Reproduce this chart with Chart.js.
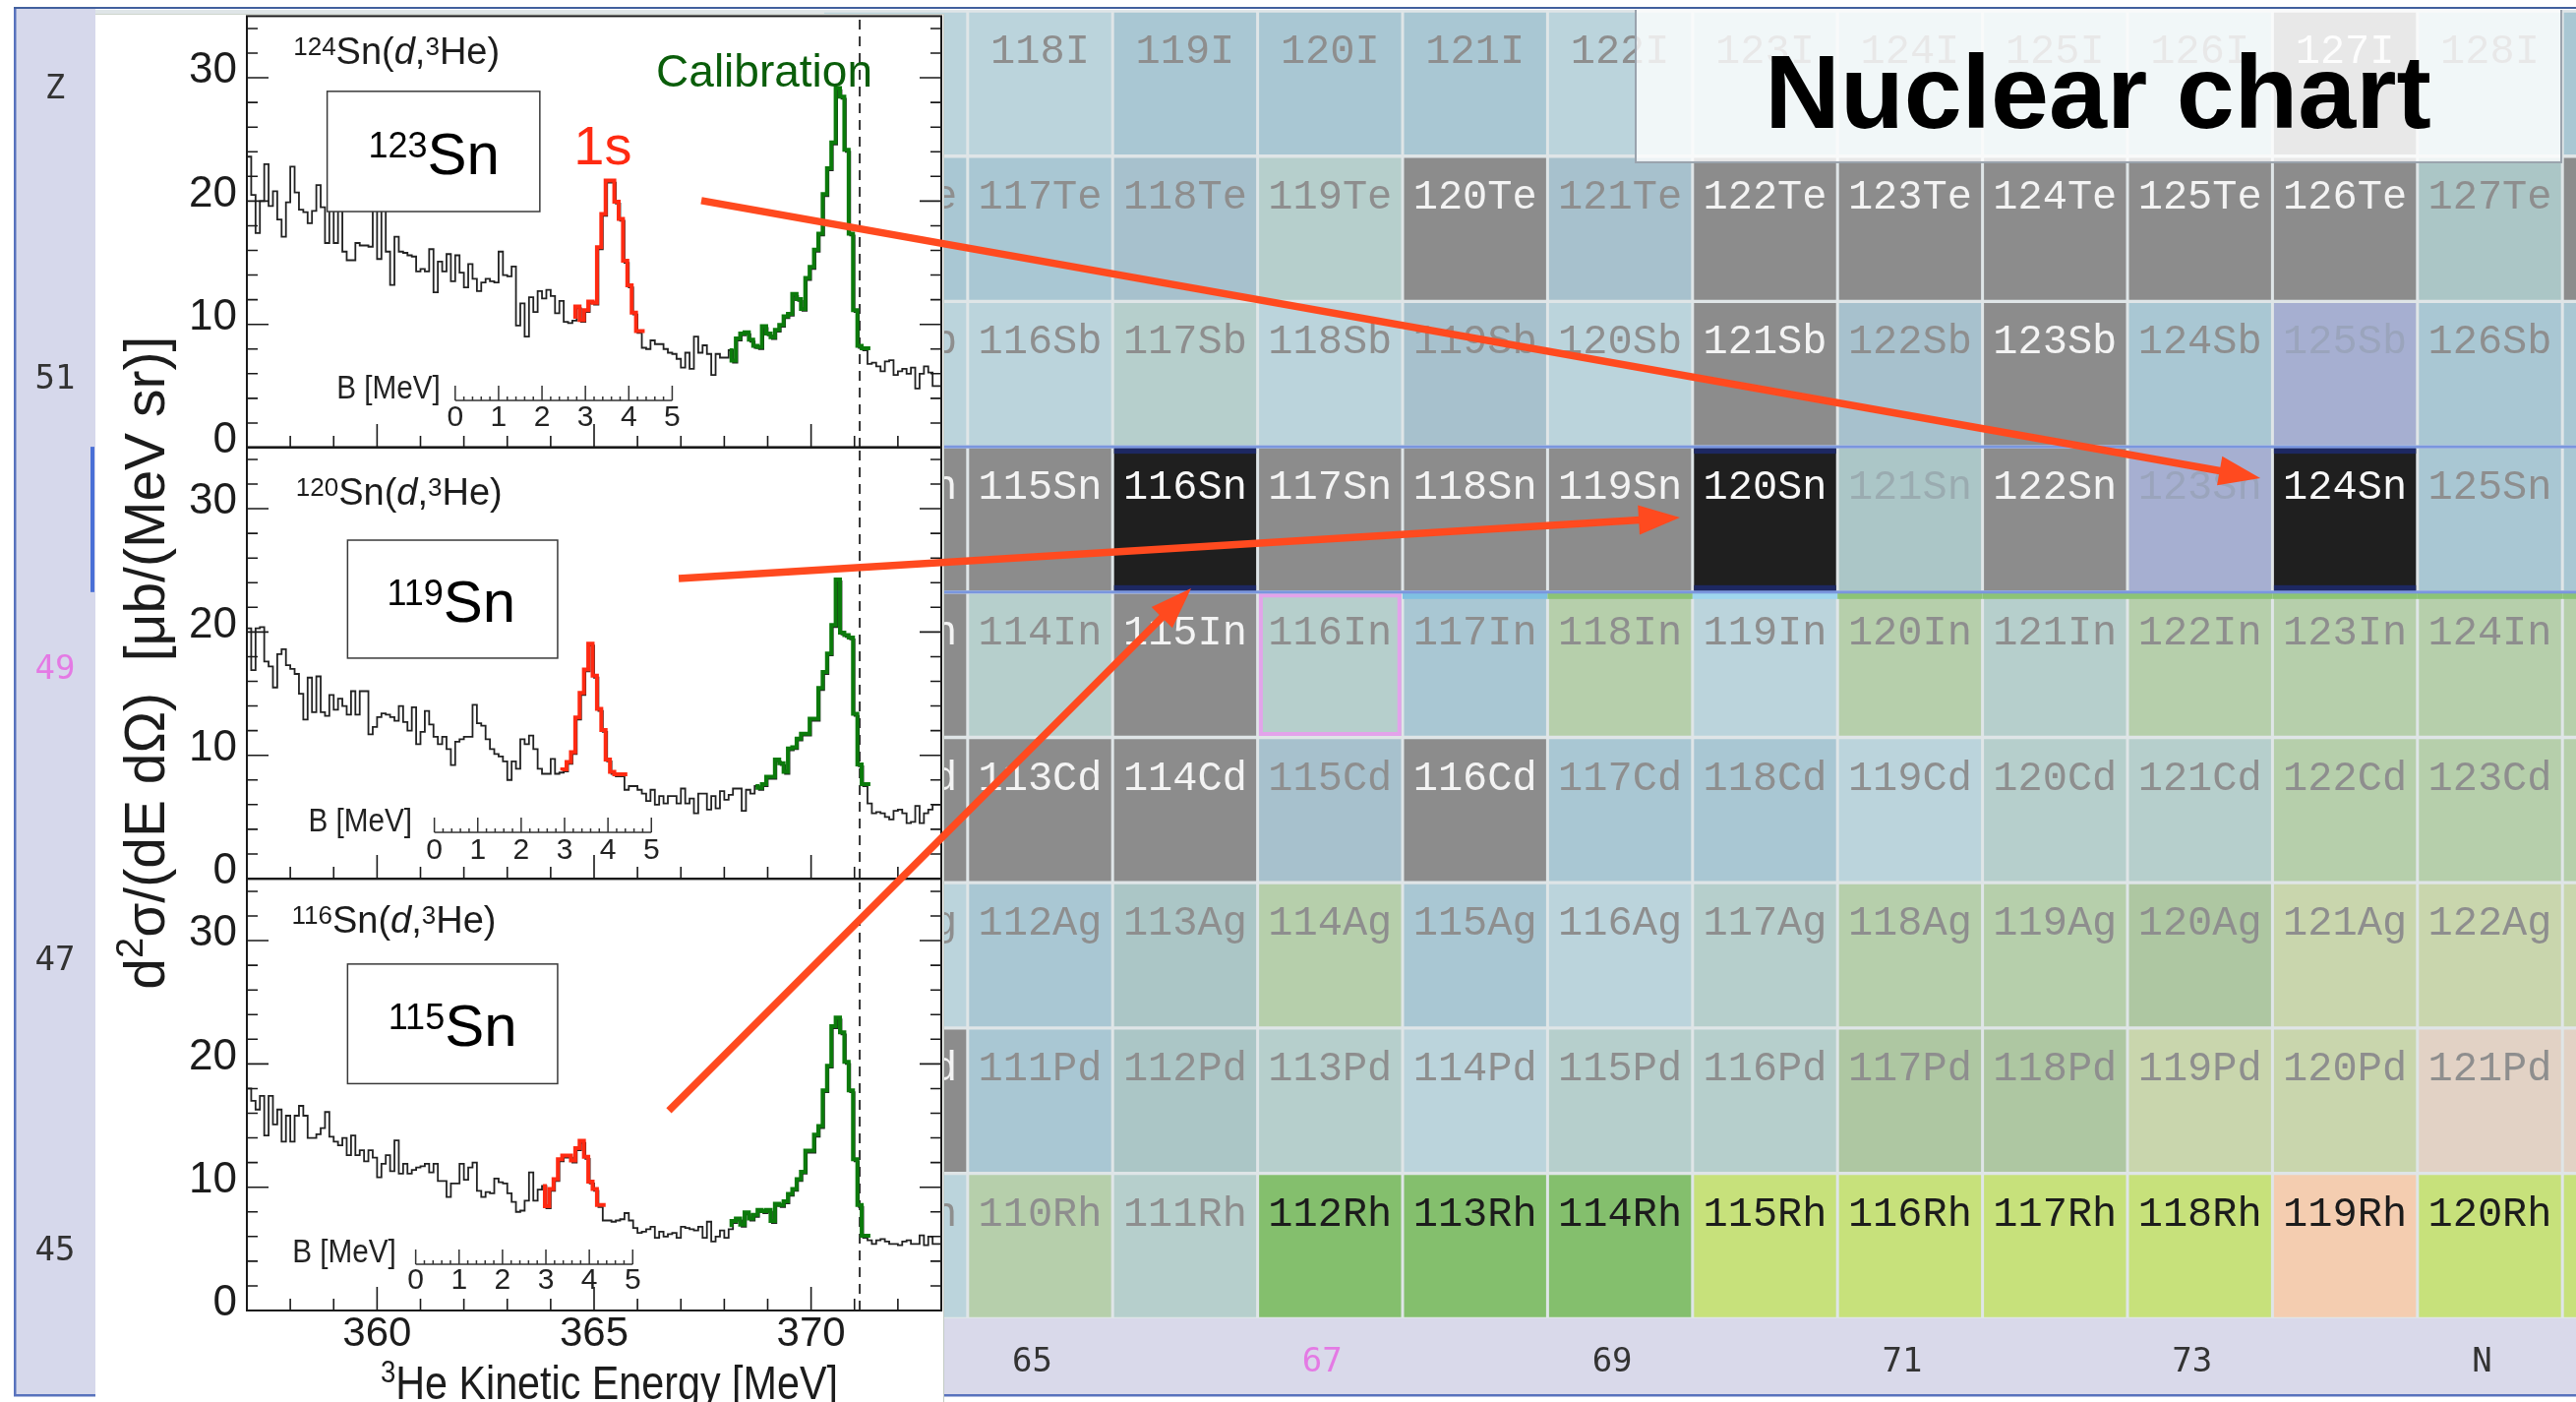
<!DOCTYPE html>
<html>
<head>
<meta charset="utf-8">
<title>Nuclear chart</title>
<script src="https://cdn.jsdelivr.net/npm/chart.js"></script>
<style>
html, body { margin:0; padding:0; background:#ffffff; }
body { width:2619px; height:1425px; position:relative; overflow:hidden; }
canvas { position:absolute; }
#inset { position:absolute; left:97px; top:14px; width:863px; height:1411px; background:#ffffff; box-sizing:border-box; border-top:1px solid #cdd5cd; border-right:1px solid #c3cbc3; }
</style>
</head>
<body>
<canvas id="nuc" width="2619" height="1425" style="left:0;top:0;"></canvas>
<div id="inset"></div>
<canvas id="p0" width="864" height="1411" style="left:97px;top:14px;"></canvas>
<canvas id="p1" width="864" height="1411" style="left:97px;top:14px;"></canvas>
<canvas id="p2" width="864" height="1411" style="left:97px;top:14px;"></canvas>
<canvas id="arrows" width="2619" height="1425" style="left:0;top:0;"></canvas>
<script>
// ================= spectrum data (0.1 MeV bins from 357 MeV) =================
const E_MIN = 357, E_MAX = 373, BIN_WIDTH = 0.1;
const V_MIN = 0, V_MAX = 35;
const EDGE_E = 371.12;
const X_TICK_LABELS = [360, 365, 370];
const Y_TICK_LABELS = [0, 10, 20, 30];
const B_TICK_LABELS = [0, 1, 2, 3, 4, 5];
const TARGET_A = ['124', '120', '116'];
const RESIDUAL_A = ['123', '119', '115'];

const SPEC_124 = [
 24.0,23.6,20.5,17.4,20.0,23.0,19.6,20.8,18.5,17.1,
 19.9,22.8,20.7,19.3,19.1,18.2,19.2,21.3,19.5,16.6,
 20.5,16.6,20.5,15.9,15.2,15.2,16.6,16.4,16.4,16.3,
 20.0,15.3,20.5,15.9,13.2,17.1,15.9,15.8,15.6,15.5,
 14.3,14.5,14.3,16.1,12.6,15.1,14.3,15.7,13.5,15.6,
 14.2,13.0,14.9,13.7,12.7,13.4,13.7,13.5,13.4,15.9,
 14.0,13.9,14.7,9.9,11.7,9.0,12.2,11.0,12.7,12.1,
 12.8,12.3,10.9,11.9,10.2,10.1,10.3,11.3,10.2,11.0,
 11.7,11.6,16.1,18.8,21.5,21.5,19.8,18.4,15.0,13.0,
 10.8,9.3,8.1,8.0,8.7,8.4,8.4,8.0,7.7,7.6,
 7.2,6.5,7.7,6.4,9.0,7.7,8.3,7.6,5.9,7.6,
 7.3,7.3,7.9,6.9,8.7,9.1,9.2,8.6,8.1,8.0,
 9.7,9.1,8.8,9.4,9.8,10.5,10.7,12.3,11.9,11.1,
 13.6,14.5,15.9,17.2,20.4,22.5,24.6,29.0,28.3,24.0,
 17.2,11.0,8.1,7.9,6.8,6.9,6.6,6.2,7.0,7.1,
 5.9,6.2,6.4,6.0,6.5,4.8,6.0,6.6,6.1,5.0
];
const SPEC_120 = [
 19.7,20.3,16.9,20.3,20.4,17.6,17.2,15.5,18.2,18.6,
 17.3,17.0,16.6,15.0,12.9,16.3,13.5,16.4,13.5,13.2,
 14.9,13.7,14.6,14.0,13.3,15.2,13.3,15.2,15.2,11.7,
 12.3,13.1,13.4,13.3,13.1,12.8,14.0,12.7,12.0,13.9,
 10.9,11.9,13.6,12.5,11.5,10.9,11.5,10.5,9.2,11.1,
 11.3,11.5,11.5,14.1,12.6,12.4,11.3,10.5,10.1,9.9,
 9.5,8.0,9.5,8.9,11.3,10.9,11.6,10.5,8.9,8.5,
 8.5,9.7,8.5,8.6,8.7,9.3,10.1,12.9,14.9,16.8,
 18.9,16.3,13.6,11.9,9.5,8.5,8.3,8.3,7.2,7.5,
 7.5,7.2,6.9,6.3,7.2,6.0,6.7,6.1,6.7,6.7,
 6.1,7.3,6.1,6.5,5.3,6.9,6.9,5.6,6.7,5.7,
 7.1,6.4,6.8,7.3,7.3,5.5,7.2,6.9,7.5,7.2,
 7.5,8.1,8.1,9.5,9.2,8.5,10.4,10.5,11.2,11.6,
 11.6,12.8,12.8,15.3,16.6,18.1,20.4,24.1,19.8,19.6,
 19.4,13.2,9.1,7.5,6.1,5.3,5.4,5.3,5.0,4.8,
 5.5,5.6,5.3,4.5,4.6,5.9,4.5,5.3,5.6,6.0
];
const SPEC_116 = [
 16.5,18.0,17.0,16.3,17.4,14.2,17.4,15.1,16.3,13.7,
 15.8,13.7,15.8,16.6,15.8,14.0,14.0,14.3,14.8,16.1,
 14.1,13.7,13.4,14.0,12.6,14.2,12.6,13.0,12.1,13.0,
 12.4,10.8,11.9,12.6,11.3,13.8,11.1,11.9,11.1,11.4,
 11.6,11.7,11.9,11.2,11.9,10.5,10.5,9.2,10.3,10.3,
 11.9,10.6,11.6,12.0,9.7,9.2,9.6,9.5,10.7,10.4,
 10.3,9.5,8.8,8.0,8.1,8.9,11.2,8.9,9.8,10.1,
 8.3,9.7,10.5,12.1,12.4,12.4,12.0,13.0,13.6,12.3,
 10.3,9.7,8.4,7.3,7.3,7.2,7.3,7.4,7.9,7.3,
 6.7,6.3,6.4,6.6,6.8,5.9,6.4,6.0,6.2,6.3,
 5.9,6.8,6.7,6.6,6.5,6.8,5.9,7.2,5.6,6.0,
 6.5,5.9,6.6,7.1,7.3,6.8,7.8,7.3,7.6,8.0,
 7.9,8.0,7.1,8.5,8.4,8.7,9.3,9.7,10.5,11.1,
 12.8,12.8,14.1,14.8,17.7,19.7,22.9,23.6,22.4,20.0,
 17.7,12.1,8.4,5.9,5.7,5.4,5.7,5.8,5.6,5.4,
 5.4,5.3,5.6,5.7,5.4,5.4,6.1,5.3,6.0,5.4
];
const SPECTRA = [SPEC_124, SPEC_120, SPEC_116];
const BINS_1S  = [[76, 91], [73, 87], [69, 82]];
const BINS_CAL = [[112, 143], [118, 143], [112, 143]];

// ================= nuclear chart data =================
const N_COLUMNS = [64, 65, 66, 67, 68, 69, 70, 71, 72, 73, 74, 75, 76];
const Z_ROWS = [53, 52, 51, 50, 49, 48, 47, 46, 45];
const SYMBOLS = ['I', 'Te', 'Sb', 'Sn', 'In', 'Cd', 'Ag', 'Pd', 'Rh'];
const STATUS_Z53 = ['L','L','A','A','A','L','L','L','L','L','S','L','A'];
const STATUS_Z52 = ['A','A','D','E','S','D','S','S','S','S','S','Q','S'];
const STATUS_Z51 = ['L','L','E','L','D','L','S','D','S','A','V','A','A'];
const STATUS_Z50 = ['S','S','T','S','S','S','T','q','S','V','T','A','A'];
const STATUS_Z49 = ['S','E','S','E','A','g','L','g','E','g','g','g','g'];
const STATUS_Z48 = ['S','S','S','D','S','A','A','L','E','E','g','g','g'];
const STATUS_Z47 = ['L','A','Q','g','A','L','E','g','g','k','h','h','h'];
const STATUS_Z46 = ['S','A','Q','E','L','E','E','k','k','h','h','r','r'];
const STATUS_Z45 = ['L','g','E','G','G','G','Y','Y','Y','Y','P','Y','Y'];
const STATUS_ROWS = [STATUS_Z53, STATUS_Z52, STATUS_Z51, STATUS_Z50, STATUS_Z49, STATUS_Z48, STATUS_Z47, STATUS_Z46, STATUS_Z45];
const N_TICKS = [65, 67, 69, 71, 73, 75];
const N_TICK_LABELS = ['65', '67', '69', '71', '73', 'N'];
const Z_TICKS = [45, 47, 49, 51, 53];
const Z_TICK_LABELS = ['45', '47', '49', '51', 'Z'];
const HIGHLIGHT_Z = 50;
const HIGHLIGHT_N = 67;
const SELECTED_CELL = [{x: 67, y: 49}];
const STRIPE_Z = 49;
const STRIPE_N = [68, 69, 70, 71, 72, 73, 74, 75, 76];
const ARROW_FROM_N = [62.663, 62.507, 62.439];
const ARROW_FROM_Z = [52.194, 49.594, 45.931];
const ARROW_TO_N   = [73.336, 69.332, 65.984];
const ARROW_TO_Z   = [50.299, 50.009, 49.469];

// ================= styles / layout =================
const FONT = '"Liberation Sans", Arial, Helvetica, sans-serif';
const MONO = '"DejaVu Sans Mono", "Liberation Mono", monospace';
const CELL_FONT = '42px "Liberation Mono", "DejaVu Sans Mono", monospace';
const RED = '#ff2a12', GREEN = '#0b7a0b', INK = '#1c1c1c';
const ARROW_COLOR = '#ff4a1f';
const STATUS_COLORS = {S:'#8c8c8c', T:'#1f1f1f', A:'#a9c7d3', L:'#bbd4dc', D:'#a7c1cd', E:'#b6cfcc', Q:'#abc6c6', q:'#abc6c7',
  V:'#a6afd1', g:'#b6cfab', k:'#aec7a2', h:'#c9d6ad', r:'#e2d2c5', G:'#84bf6d', Y:'#c7e17b', P:'#f4cdb0'};
const LABEL_COLORS = {S:'#f3f3f3', T:'#f7f7f7', G:'#1c1c1c', Y:'#1c1c1c', P:'#1c1c1c', q:'#9aabb0', V:'#9aa4bc'};
const STRIPE_COLORS = {A:'#7fc0e2', L:'#9fd6ee'};
const STRIPE_DEFAULT = '#8cc476';
const CELL_GAP = 3;
const LABEL_RISE = 0.216;
const NUC_PAD = {left: 97, top: 10, right: 0, bottom: 85};
const STRIP_LEFT = 15, STRIP_BOTTOM = 1418;
const NUC_X = {min: 58.4837, max: 75.5936};
const NUC_Y = {min: 44.502, max: 53.507};
const TITLE_BOX = {n0: 69.108, n1: 75.492, z0: 52.458, z1: 53.52, textN: 72.297, textZ: 52.695};
const HEAD_LEN = 42, HEAD_HALF = 15, HEAD_EXT = 12;

const PANEL_LAYOUT = [
  {padTop: 2.4, padBottom: 970, reaction: {e: 358.07, v: 31.13}, box: {e0: 358.85, e1: 363.75, v0: 19.15, v1: 28.9},
   boxLabel: {e: 361.31, v: 22.2}, ruler: {e0: 361.80, v: 3.83, labV: 1.75, titleE: 361.46, titleV: 4.0}},
  {padTop: 440.4, padBottom: 532, reaction: {e: 358.13, v: 30.3}, box: {e0: 359.32, e1: 364.16, v0: 17.88, v1: 27.45},
   boxLabel: {e: 361.71, v: 20.85}, ruler: {e0: 361.32, v: 3.75, labV: 1.57, titleE: 360.81, titleV: 3.83}},
  {padTop: 879.4, padBottom: 93, reaction: {e: 358.03, v: 30.65}, box: {e0: 359.32, e1: 364.16, v0: 18.4, v1: 28.1},
   boxLabel: {e: 361.74, v: 21.44}, ruler: {e0: 360.89, v: 3.75, labV: 1.76, titleE: 360.44, titleV: 3.89}}
];
const PEAK_LABEL = {e: 365.20, v: 23.0};
const CAL_LABEL = {e: 366.43, v: 29.26};
const X_TITLE = {e: 360.08, dy: 90};
const Y_TITLE_DX = -84;

Chart.defaults.font.family = FONT;

// ---------- helpers ----------
function fontStr(p) { return (p.italic ? 'italic ' : '') + (p.bold ? 'bold ' : '') + p.size + 'px ' + FONT; }
function drawRich(ctx, pieces, x, y, align, sx) {
  ctx.save();
  ctx.translate(x, y);
  ctx.scale(sx || 1, 1);
  ctx.textAlign = 'left';
  ctx.textBaseline = 'alphabetic';
  let total = 0;
  pieces.forEach(p => { ctx.font = fontStr(p); p.w = ctx.measureText(p.t).width; total += p.w; });
  let cx = align === 'center' ? -total / 2 : (align === 'right' ? -total : 0);
  pieces.forEach(p => { ctx.font = fontStr(p); ctx.fillText(p.t, cx, -(p.rise || 0)); cx += p.w; });
  ctx.restore();
}
function histPoints(values, from, to) {
  const pts = [];
  for (let k = from; k <= to; k++) pts.push({x: E_MIN + k * BIN_WIDTH, y: values[k]});
  pts.push({x: E_MIN + (to + 1) * BIN_WIDTH, y: values[to]});
  return pts;
}

// ---------- spectrum panels ----------
function makePanelPlugin(idx) {
  const L = PANEL_LAYOUT[idx];
  return {
    id: 'rootPanel' + idx,
    beforeDatasetDraw(chart, args) {
      const ds = chart.data.datasets[args.index];
      if (ds.pixelShift) { chart.ctx.save(); chart.ctx.translate(ds.pixelShift[0], ds.pixelShift[1]); }
    },
    afterDatasetDraw(chart, args) {
      const ds = chart.data.datasets[args.index];
      if (ds.pixelShift) chart.ctx.restore();
    },
    afterDatasetsDraw(chart) {
      const ctx = chart.ctx, a = chart.chartArea, xs = chart.scales.x, ys = chart.scales.y;
      const X = e => xs.getPixelForValue(e), Y = v => ys.getPixelForValue(v);
      ctx.save();
      const bx0 = X(L.box.e0), bx1 = X(L.box.e1), by0 = Y(L.box.v1), by1 = Y(L.box.v0);
      ctx.fillStyle = '#ffffff';
      ctx.fillRect(bx0, by0, bx1 - bx0, by1 - by0);
      ctx.strokeStyle = '#3a3a3a'; ctx.lineWidth = 1.5;
      ctx.strokeRect(bx0, by0, bx1 - bx0, by1 - by0);
      ctx.fillStyle = '#000000';
      drawRich(ctx, [{t: RESIDUAL_A[idx], size: 36, rise: 17}, {t: 'Sn', size: 60}], X(L.boxLabel.e), Y(L.boxLabel.v), 'center');
      ctx.fillStyle = INK;
      drawRich(ctx, [{t: TARGET_A[idx], size: 26, rise: 9}, {t: 'Sn(', size: 38}, {t: 'd', size: 38, italic: true},
        {t: ',', size: 38}, {t: '3', size: 26, rise: 9}, {t: 'He)', size: 38}], X(L.reaction.e), Y(L.reaction.v), 'left');
      if (idx === 0) {
        ctx.fillStyle = RED;
        drawRich(ctx, [{t: '1s', size: 56}], X(PEAK_LABEL.e), Y(PEAK_LABEL.v), 'center');
        ctx.fillStyle = '#0a5d0a';
        drawRich(ctx, [{t: 'Calibration', size: 46}], X(CAL_LABEL.e), Y(CAL_LABEL.v), 'left');
      }
      const R = L.ruler, ry = Y(R.v);
      ctx.strokeStyle = '#333333'; ctx.lineWidth = 1.5;
      ctx.beginPath();
      ctx.moveTo(X(R.e0), ry); ctx.lineTo(X(R.e0 + 5), ry);
      for (let i = 0; i <= 25; i++) {
        const px = X(R.e0 + i * 0.2), len = i % 5 === 0 ? 15 : 4;
        ctx.moveTo(px, ry); ctx.lineTo(px, ry - len);
      }
      ctx.stroke();
      ctx.fillStyle = '#222222';
      B_TICK_LABELS.forEach(b => drawRich(ctx, [{t: String(b), size: 30}], X(R.e0 + b), Y(R.labV), 'center'));
      drawRich(ctx, [{t: 'B [MeV]', size: 33}], X(R.titleE), Y(R.titleV), 'right', 0.9);
      ctx.strokeStyle = '#1a1a1a'; ctx.lineWidth = 2;
      ctx.strokeRect(a.left, a.top, a.right - a.left, a.bottom - a.top);
      ctx.lineWidth = 1.6;
      ctx.beginPath();
      for (let v = V_MIN; v < V_MAX; v += 2) {
        const py = Y(v), len = v % 10 === 0 ? 22 : 11;
        ctx.moveTo(a.left, py); ctx.lineTo(a.left + len, py);
        ctx.moveTo(a.right, py); ctx.lineTo(a.right - len, py);
      }
      for (let e = E_MIN + 1; e < E_MAX; e += 1) {
        const px = X(e), len = e % 5 === 0 ? 24 : 12;
        ctx.moveTo(px, a.bottom); ctx.lineTo(px, a.bottom - len);
      }
      ctx.stroke();
      ctx.fillStyle = INK;
      ctx.font = '44px ' + FONT; ctx.textAlign = 'right'; ctx.textBaseline = 'middle';
      Y_TICK_LABELS.forEach(v => ctx.fillText(String(v), a.left - 10, Y(v) - 7));
      if (idx === 2) {
        ctx.font = '42px ' + FONT; ctx.textAlign = 'center'; ctx.textBaseline = 'top';
        X_TICK_LABELS.forEach(e => ctx.fillText(String(e), X(e), a.bottom + 3));
        drawRich(ctx, [{t: '3', size: 32, rise: 17}, {t: 'He Kinetic Energy [MeV]', size: 48}], X(X_TITLE.e), a.bottom + X_TITLE.dy, 'left', 0.86);
      }
      if (idx === 1) {
        ctx.save();
        ctx.translate(a.left + Y_TITLE_DX, (a.top + a.bottom) / 2);
        ctx.rotate(-Math.PI / 2);
        drawRich(ctx, [{t: 'd', size: 57}, {t: '2', size: 38, rise: 22}, {t: 'σ/(dE dΩ)  [μb/(MeV sr)]', size: 57}], 0, 0, 'center');
        ctx.restore();
      }
      ctx.restore();
    }
  };
}

SPECTRA.forEach((spec, idx) => {
  const L = PANEL_LAYOUT[idx];
  new Chart(document.getElementById('p' + idx), {
    type: 'line',
    data: {
      datasets: [
        {label: '1s', data: histPoints(spec, BINS_1S[idx][0], BINS_1S[idx][1]), borderColor: RED, borderWidth: 4,
         stepped: 'after', pointRadius: 0, order: 0, pixelShift: [-1.5, -2]},
        {label: 'calibration', data: histPoints(spec, BINS_CAL[idx][0], BINS_CAL[idx][1]), borderColor: GREEN, borderWidth: 4,
         stepped: 'after', pointRadius: 0, order: 1, pixelShift: [-1.5, -2]},
        {label: 'spectrum', data: histPoints(spec, 0, spec.length - 1), borderColor: '#222222', borderWidth: 1.8,
         stepped: 'after', pointRadius: 0, order: 2},
        {label: 'edge', data: [{x: EDGE_E, y: V_MIN}, {x: EDGE_E, y: V_MAX}], borderColor: '#222222', borderWidth: 1.8,
         borderDash: [10, 7], pointRadius: 0, order: 3}
      ]
    },
    options: {
      responsive: false, animation: false, devicePixelRatio: 1, events: [],
      layout: {padding: {left: 154, right: 4, top: L.padTop, bottom: L.padBottom}},
      scales: {
        x: {type: 'linear', min: E_MIN, max: E_MAX, display: false},
        y: {type: 'linear', min: V_MIN, max: V_MAX, display: false}
      },
      elements: {line: {tension: 0, fill: false}},
      plugins: {legend: {display: false}, tooltip: {enabled: false}}
    },
    plugins: [makePanelPlugin(idx)]
  });
});

// ---------- nuclear chart ----------
const CELLS = [];
Z_ROWS.forEach((z, r) => {
  N_COLUMNS.forEach((n, c) => {
    CELLS.push({x: n, y: z, code: STATUS_ROWS[r][c], label: String(z + n) + SYMBOLS[r]});
  });
});
function cellRadius(chart) {
  const xs = chart.scales.x;
  const w = Math.abs(xs.getPixelForValue(1) - xs.getPixelForValue(0));
  return (w - CELL_GAP) / 2 / Math.SQRT1_2;
}
const nucPlugin = {
  id: 'nucPlugin',
  beforeDraw(chart) {
    const ctx = chart.ctx, a = chart.chartArea, xs = chart.scales.x, ys = chart.scales.y;
    ctx.save();
    ctx.fillStyle = '#d6d8eb';
    ctx.fillRect(STRIP_LEFT, a.top - 1, a.left - STRIP_LEFT, STRIP_BOTTOM - a.top + 1);
    ctx.fillStyle = '#d9d9ea';
    ctx.fillRect(a.left, a.bottom, a.right - a.left, STRIP_BOTTOM - a.bottom);
    ctx.fillStyle = '#dfe5e7';
    ctx.fillRect(a.left, a.top, a.right - a.left, a.bottom - a.top);
    ctx.fillStyle = '#5872bd';
    ctx.fillRect(STRIP_LEFT - 1, a.top - 3, 2.5, STRIP_BOTTOM - a.top + 4);
    ctx.fillRect(STRIP_LEFT - 1, STRIP_BOTTOM - 1, a.right, 2.5);
    ctx.fillStyle = '#42609e';
    ctx.fillRect(STRIP_LEFT - 1, a.top - 3, a.right, 2);
    const t = ys.getPixelForValue(HIGHLIGHT_Z + 0.5), b = ys.getPixelForValue(HIGHLIGHT_Z - 0.5);
    ctx.fillStyle = '#4a6fd6';
    ctx.fillRect(a.left - 5, t, 4, b - t);
    ctx.font = '34px ' + MONO; ctx.textAlign = 'center'; ctx.textBaseline = 'middle';
    const zx = (STRIP_LEFT + a.left) / 2;
    Z_TICKS.forEach((z, i) => {
      ctx.fillStyle = z === 49 ? '#e47ae4' : '#333333';
      ctx.fillText(Z_TICK_LABELS[i], zx, ys.getPixelForValue(z) + 6);
    });
    const ny = (a.bottom + STRIP_BOTTOM) / 2 + 6;
    N_TICKS.forEach((n, i) => {
      ctx.fillStyle = n === HIGHLIGHT_N ? '#e47ae4' : '#333333';
      ctx.fillText(N_TICK_LABELS[i], xs.getPixelForValue(n) - 8, ny);
    });
    ctx.restore();
  },
  afterDatasetsDraw(chart) {
    const ctx = chart.ctx, a = chart.chartArea, xs = chart.scales.x, ys = chart.scales.y;
    const meta = chart.getDatasetMeta(1);
    const half = (Math.abs(xs.getPixelForValue(1) - xs.getPixelForValue(0)) - CELL_GAP) / 2;
    ctx.save();
    ctx.beginPath(); ctx.rect(a.left, a.top, a.right - a.left, a.bottom - a.top); ctx.clip();
    // coloured stripe along the top of the In row
    meta.data.forEach((pt, i) => {
      const c = CELLS[i];
      if (c.y !== STRIPE_Z || STRIPE_N.indexOf(c.x) < 0) return;
      ctx.fillStyle = STRIPE_COLORS[c.code] || STRIPE_DEFAULT;
      ctx.fillRect(pt.x - half - 1.5, ys.getPixelForValue(c.y + 0.5) + 1, 2 * half + 3, 6);
    });
    ctx.fillStyle = '#1d2862';
    meta.data.forEach((pt, i) => {
      const c = CELLS[i];
      if (c.code !== 'T') return;
      const top = ys.getPixelForValue(c.y + 0.5), bot = ys.getPixelForValue(c.y - 0.5);
      ctx.fillRect(pt.x - half, top + 1, 2 * half, 6);
      ctx.fillRect(pt.x - half, bot - 7, 2 * half, 6);
    });
    ctx.fillStyle = '#7a96de';
    [HIGHLIGHT_Z + 0.5, HIGHLIGHT_Z - 0.5].forEach(z => {
      const py = ys.getPixelForValue(z);
      ctx.fillRect(a.left, py - 1.5, a.right - a.left, 3);
    });
    ctx.font = CELL_FONT; ctx.textAlign = 'center'; ctx.textBaseline = 'middle';
    meta.data.forEach((pt, i) => {
      const c = CELLS[i];
      ctx.fillStyle = LABEL_COLORS[c.code] || '#8e8e8e';
      ctx.fillText(c.label, pt.x, ys.getPixelForValue(c.y + LABEL_RISE));
    });
    const bx0 = xs.getPixelForValue(TITLE_BOX.n0), bx1 = xs.getPixelForValue(TITLE_BOX.n1);
    const by0 = ys.getPixelForValue(TITLE_BOX.z1), by1 = ys.getPixelForValue(TITLE_BOX.z0);
    ctx.fillStyle = 'rgba(255,255,255,0.8)';
    ctx.fillRect(bx0, by0, bx1 - bx0, by1 - by0);
    ctx.strokeStyle = '#9aa3ad'; ctx.lineWidth = 2;
    ctx.strokeRect(bx0, by0, bx1 - bx0, by1 - by0);
    ctx.fillStyle = '#000000';
    ctx.font = 'bold 106px ' + FONT; ctx.textAlign = 'center'; ctx.textBaseline = 'alphabetic';
    ctx.fillText('Nuclear chart', xs.getPixelForValue(TITLE_BOX.textN), ys.getPixelForValue(TITLE_BOX.textZ));
    ctx.restore();
  }
};
new Chart(document.getElementById('nuc'), {
  type: 'scatter',
  data: {
    datasets: [
      {label: 'selected', data: SELECTED_CELL, pointStyle: 'rect', pointRadius: ctx => cellRadius(ctx.chart) - 2.5,
       pointBackgroundColor: 'rgba(0,0,0,0)', pointBorderColor: '#e3a3ea', pointBorderWidth: 4, order: 0},
      {label: 'nuclides', data: CELLS, pointStyle: 'rect', pointRadius: ctx => cellRadius(ctx.chart),
       pointBackgroundColor: ctx => STATUS_COLORS[ctx.raw.code], pointBorderWidth: 0, order: 1}
    ]
  },
  options: {
    responsive: false, animation: false, devicePixelRatio: 1, events: [],
    layout: {padding: NUC_PAD},
    scales: {
      x: {type: 'linear', min: NUC_X.min, max: NUC_X.max, display: false},
      y: {type: 'linear', min: NUC_Y.min, max: NUC_Y.max, display: false}
    },
    plugins: {legend: {display: false}, tooltip: {enabled: false}}
  },
  plugins: [nucPlugin]
});

// ---------- arrows overlay ----------
const arrowHeads = {
  id: 'arrowHeads',
  afterDatasetsDraw(chart) {
    const ctx = chart.ctx;
    chart.data.datasets.forEach((ds, i) => {
      const m = chart.getDatasetMeta(i), p0 = m.data[0], p1 = m.data[1];
      const dx = p1.x - p0.x, dy = p1.y - p0.y, len = Math.hypot(dx, dy), ux = dx / len, uy = dy / len;
      const tx = p1.x + ux * HEAD_EXT, ty = p1.y + uy * HEAD_EXT;
      const bx = tx - ux * HEAD_LEN, by = ty - uy * HEAD_LEN;
      ctx.save();
      ctx.fillStyle = ds.borderColor;
      ctx.beginPath();
      ctx.moveTo(tx, ty);
      ctx.lineTo(bx - uy * HEAD_HALF, by + ux * HEAD_HALF);
      ctx.lineTo(bx + uy * HEAD_HALF, by - ux * HEAD_HALF);
      ctx.closePath();
      ctx.fill();
      ctx.restore();
    });
  }
};
new Chart(document.getElementById('arrows'), {
  type: 'scatter',
  data: {
    datasets: ARROW_FROM_N.map((n, i) => ({
      label: 'arrow' + i,
      data: [{x: n, y: ARROW_FROM_Z[i]}, {x: ARROW_TO_N[i], y: ARROW_TO_Z[i]}],
      showLine: true, borderColor: ARROW_COLOR, borderWidth: 7.5, pointRadius: 0
    }))
  },
  options: {
    responsive: false, animation: false, devicePixelRatio: 1, events: [],
    layout: {padding: NUC_PAD},
    scales: {
      x: {type: 'linear', min: NUC_X.min, max: NUC_X.max, display: false},
      y: {type: 'linear', min: NUC_Y.min, max: NUC_Y.max, display: false}
    },
    plugins: {legend: {display: false}, tooltip: {enabled: false}}
  },
  plugins: [arrowHeads]
});
</script>
</body>
</html>
